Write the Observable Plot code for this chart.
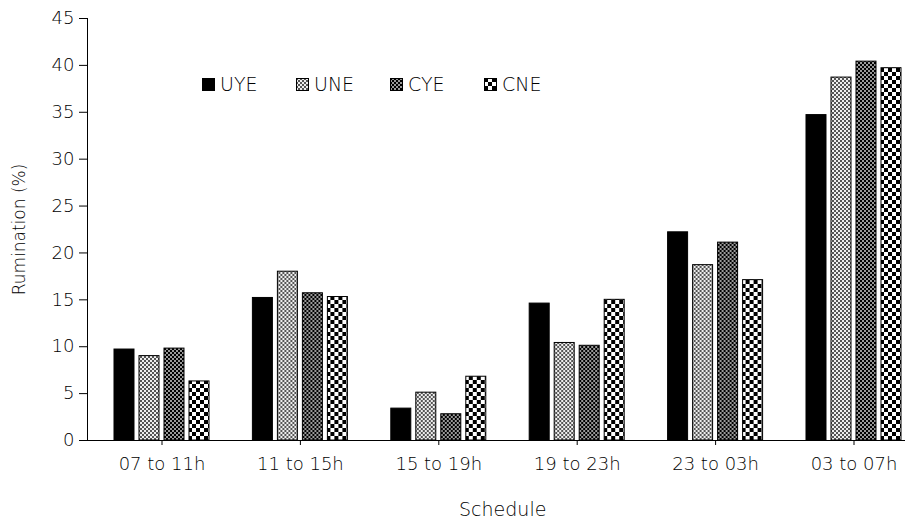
<!DOCTYPE html>
<html>
<head>
<meta charset="utf-8">
<script src="https://cdn.jsdelivr.net/npm/d3@7"></script>
<script src="https://cdn.jsdelivr.net/npm/@observablehq/plot@0.6"></script>
<style>
  html, body { margin: 0; padding: 0; background: #fff; overflow: hidden; }
  #wrap { position: relative; width: 912px; height: 520px; overflow: hidden; font-family: "DejaVu Sans", sans-serif; font-weight: 200; background: #fff; }
  #wrap > svg { overflow: hidden; clip-path: inset(0 7px 0 0); }
  #legend { position: absolute; top: 73px; left: 202px; display: flex; font-size: 19px; color: #000; }
  .item { display: flex; align-items: center; width: 94px; }
  .item svg { margin-right: 5px; }
</style>
</head>
<body>
<svg width="0" height="0" style="position:absolute">
  <defs>
    <pattern id="pUNE" patternUnits="userSpaceOnUse" width="4" height="4">
      <rect width="4" height="4" fill="#eee"/>
      <rect x="0" y="0" width="2" height="2" fill="#555"/>
      <rect x="2" y="2" width="2" height="2" fill="#555"/>
    </pattern>
    <pattern id="pCYE" patternUnits="userSpaceOnUse" width="4" height="4">
      <rect width="4" height="4" fill="#999"/>
      <rect x="0" y="0" width="2" height="2" fill="#000"/>
      <rect x="2" y="2" width="2" height="2" fill="#000"/>
    </pattern>
    <pattern id="pCNE" patternUnits="userSpaceOnUse" width="8" height="8">
      <rect width="8" height="8" fill="#fff"/>
      <rect x="0" y="0" width="4" height="4" fill="#000"/>
      <rect x="4" y="4" width="4" height="4" fill="#000"/>
    </pattern>
  </defs>
</svg>
<div id="wrap"><div id="legend"></div></div>
<script>
const categories = ["07 to 11h", "11 to 15h", "15 to 19h", "19 to 23h", "23 to 03h", "03 to 07h"];
const series = ["UYE", "UNE", "CYE", "CNE"];
const UYE = [9.7, 15.2, 3.4, 14.6, 22.2, 34.7];
const UNE = [9.0, 18.0, 5.1, 10.4, 18.7, 38.7];
const CYE = [9.8, 15.7, 2.8, 10.1, 21.1, 40.4];
const CNE = [6.3, 15.3, 6.8, 15.0, 17.1, 39.7];
const yTicks = [0, 5, 10, 15, 20, 25, 30, 35, 40, 45];
const fills = ["#000", "url(#pUNE)", "url(#pCYE)", "url(#pCNE)"];

const values = {UYE, UNE, CYE, CNE};
const data = categories.flatMap((c, i) => series.map(s => ({cat: c, series: s, value: values[s][i]})));

const chart = Plot.plot({
  width: 912,
  height: 520,
  marginLeft: 87,
  marginRight: -5.4,
  marginTop: 18,
  marginBottom: 80,
  style: {fontFamily: "'DejaVu Sans', sans-serif", fontWeight: 200, fontSize: "18px", color: "#000", background: "#fff"},
  fx: {domain: categories, paddingInner: 0, paddingOuter: 0, round: false, label: "Schedule"},
  x: {domain: series, paddingInner: 0.2, paddingOuter: 0.868, align: 0.622, round: false, axis: null},
  y: {domain: [0, 45], label: "Rumination (%)"},
  color: {domain: series, range: fills},
  marks: [
    Plot.barY(data, {fx: "cat", x: "series", y: "value", fill: "series", stroke: "#000", strokeWidth: 1}),
    Plot.axisY({ticks: yTicks, tickSize: 8, tickPadding: 5, label: null, fontSize: 18}),
    Plot.axisY({ticks: [], tickSize: 0, label: "Rumination (%)", labelAnchor: "center", labelArrow: "none", labelOffset: 75, fontSize: 17}),
    Plot.axisFx({anchor: "bottom", tickSize: 5, tickPadding: 12, dx: 5.3, label: null, fontSize: 18}),
    Plot.axisFx({anchor: "bottom", ticks: [], tickSize: 0, label: "Schedule", labelAnchor: "center", labelArrow: "none", labelOffset: 75, fontSize: 19}),
    Plot.frame({anchor: "left", facet: "super"}),
    Plot.frame({anchor: "bottom", facet: "super"})
  ]
});
document.getElementById("wrap").prepend(chart);

const legend = d3.select("#legend");
series.forEach((s, i) => {
  const item = legend.append("div").attr("class", "item");
  const sv = item.append("svg").attr("width", 13).attr("height", 13);
  sv.append("rect").attr("x", 0.5).attr("y", 0.5).attr("width", 12).attr("height", 12)
    .attr("fill", fills[i]).attr("stroke", "#000");
  item.append("span").text(s);
});
</script>
</body>
</html>
